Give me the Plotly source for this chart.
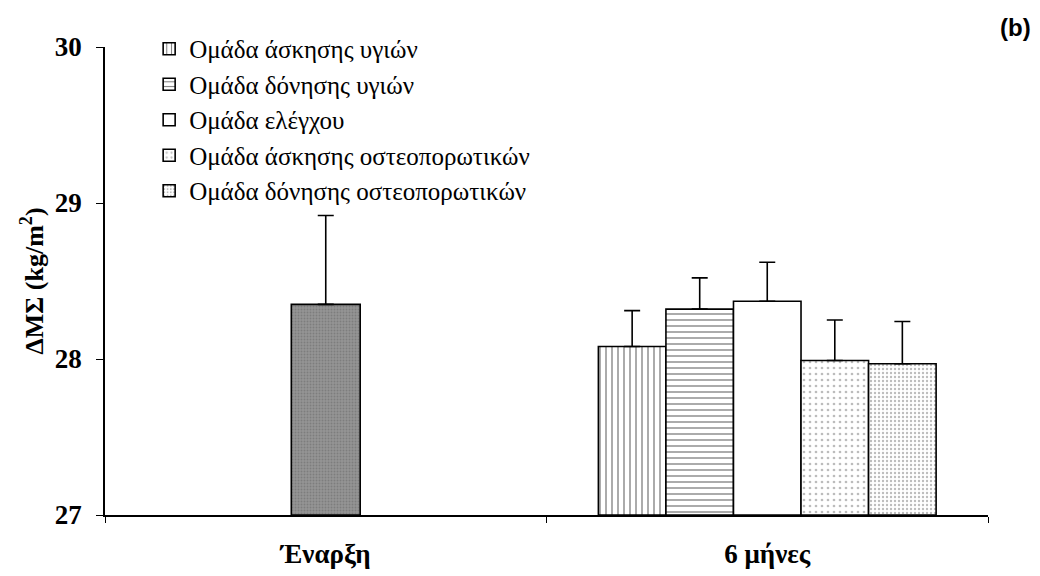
import plotly.graph_objects as go

# Time points on the x axis
timepoints = ["Έναρξη", "6 μήνες"]

# Whole-sample value at the start
baseline_mean = 28.35
baseline_sd = 0.57

# Groups measured after six months
groups = [
    "Ομάδα άσκησης υγιών",
    "Ομάδα δόνησης υγιών",
    "Ομάδα ελέγχου",
    "Ομάδα άσκησης οστεοπορωτικών",
    "Ομάδα δόνησης οστεοπορωτικών",
]
six_month_means = [28.08, 28.32, 28.37, 27.99, 27.97]
six_month_sd = [0.23, 0.20, 0.25, 0.26, 0.27]

# Fill pattern for each group bar
patterns = [
    dict(shape="|", fgcolor="black", bgcolor="white", size=6, solidity=0.22),
    dict(shape="-", fgcolor="black", bgcolor="white", size=6, solidity=0.22),
    dict(shape="", fgcolor="black", bgcolor="white"),
    dict(shape=".", fgcolor="#7a7a7a", bgcolor="white", size=6, solidity=0.16),
    dict(shape=".", fgcolor="#7a7a7a", bgcolor="white", size=4, solidity=0.28),
]

SERIF = "'Liberation Serif', 'DejaVu Serif', serif"
bar_w = 0.153
outline = dict(color="black", width=1.6)

fig = go.Figure()

fig.add_trace(go.Bar(
    x=[timepoints[0]], y=[baseline_mean - 27], base=27,
    width=0.156, offset=-0.078,
    marker=dict(color="#8c8c8c", line=outline,
                pattern=dict(shape=".", fgcolor="#666666", bgcolor="#959595",
                             size=3, solidity=0.35)),
    error_y=dict(type="data", symmetric=False, array=[baseline_sd],
                 arrayminus=[0], color="black", thickness=1.6, width=8),
    showlegend=False,
))

for i, (name, m, sd, pat) in enumerate(zip(groups, six_month_means, six_month_sd, patterns)):
    fig.add_trace(go.Bar(
        x=[timepoints[1]], y=[m - 27], base=27,
        width=bar_w, offset=-2.5 * bar_w + i * bar_w,
        name=name, legendgroup=f"g{i}",
        marker=dict(color="white", line=outline, pattern=pat),
        error_y=dict(type="data", symmetric=False, array=[sd],
                     arrayminus=[0], color="black", thickness=1.6, width=8),
    ))

fig.update_layout(
    width=1040, height=576,
    margin=dict(l=105, r=52, t=47, b=61),
    paper_bgcolor="white", plot_bgcolor="white",
    barmode="overlay",
    font=dict(family=SERIF, color="black"),
    legend=dict(
        x=0.05, y=1.045, xanchor="left", yanchor="top",
        font=dict(family=SERIF, size=25, color="black"),
        bgcolor="rgba(0,0,0,0)", traceorder="grouped", tracegroupgap=0,
        itemwidth=30,
    ),
    annotations=[dict(
        text="<b>(b)</b>", x=(1015 - 105) / 883, y=(515 - 28) / 468,
        xref="paper", yref="paper", xanchor="center", yanchor="middle",
        showarrow=False, font=dict(family="'Liberation Sans', Arial, sans-serif", size=24),
    )],
)

fig.update_xaxes(
    type="category", categoryorder="array", categoryarray=timepoints,
    range=[-0.5, 1.5], automargin=False,
    tickvals=timepoints, ticktext=["<b>" + t + "</b>" for t in timepoints],
    showline=True, linecolor="black", linewidth=1.6,
    ticks="outside", tickson="boundaries", ticklen=6, tickcolor="black", tickwidth=1.4,
    tickfont=dict(family=SERIF, size=27, color="black"),
    ticklabelstandoff=14,
    showgrid=False, zeroline=False,
)

yticks = [27, 28, 29, 30]
fig.update_yaxes(
    range=[27, 30], tickvals=yticks, automargin=False,
    ticktext=[f"<b>{v}</b>" for v in yticks],
    showline=True, linecolor="black", linewidth=1.6,
    ticks="outside", ticklen=7, tickcolor="black", tickwidth=1.4,
    tickfont=dict(family=SERIF, size=27, color="black"),
    ticklabelstandoff=9,
    showgrid=False, zeroline=False,
    title=dict(text="<b>ΔΜΣ (kg/m<sup>2</sup>)</b>",
               font=dict(family=SERIF, size=26, color="black"), standoff=4),
)

fig.write_html("out.html")
